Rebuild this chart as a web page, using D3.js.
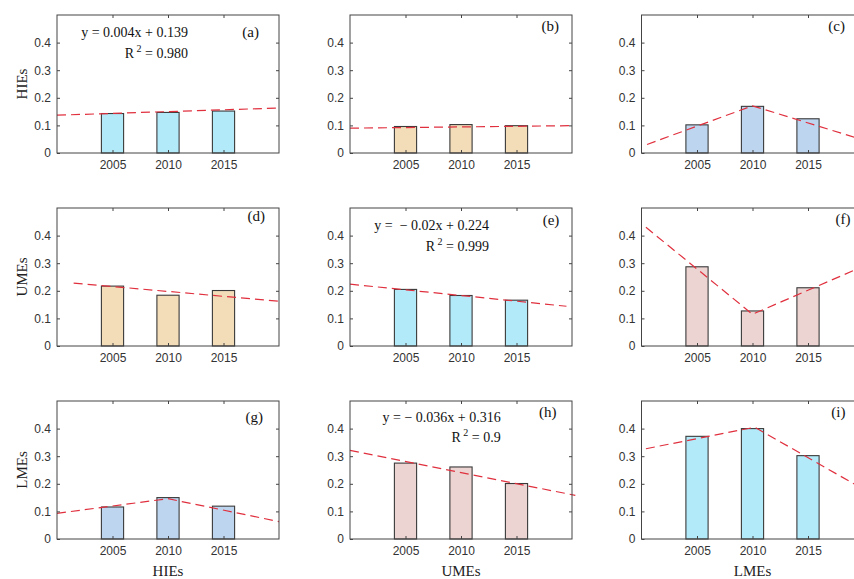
<!DOCTYPE html>
<html>
<head>
<meta charset="utf-8">
<script src="https://cdn.jsdelivr.net/npm/d3@7/dist/d3.min.js"></script>
<style>
  html, body { margin: 0; padding: 0; background: #fff; }
  svg { display: block; }
</style>
</head>
<body>
<svg id="chart" width="854" height="579"></svg>
<script>
// ---------------- DATA ----------------
const years = [2005, 2010, 2015];
const yTicks = [0, 0.1, 0.2, 0.3, 0.4];
const yTickLabels = ["0", "0.1", "0.2", "0.3", "0.4"];
const rowNames = ["HIEs", "UMEs", "LMEs"];
const colNames = ["HIEs", "UMEs", "LMEs"];
const panelLetters = ["(a)", "(b)", "(c)", "(d)", "(e)", "(f)", "(g)", "(h)", "(i)"];

const barA = [0.143, 0.147, 0.152];
const barB = [0.096, 0.103, 0.099];
const barC = [0.102, 0.169, 0.124];
const barD = [0.217, 0.184, 0.201];
const barE = [0.205, 0.183, 0.166];
const barF = [0.287, 0.127, 0.211];
const barG = [0.116, 0.150, 0.119];
const barH = [0.275, 0.261, 0.201];
const barI = [0.372, 0.400, 0.302];
const barValues = [barA, barB, barC, barD, barE, barF, barG, barH, barI];

// trend / fitted lines: [year, value]
const trendA = [[2000, 0.137], [2020, 0.163]];
const trendB = [[2000, 0.090], [2020, 0.099]];
const trendC = [[2000.5, 0.031], [2010, 0.171], [2020, 0.047]];
const trendD = [[2001.5, 0.228], [2020.3, 0.161]];
const trendE = [[2000, 0.224], [2019.5, 0.144]];
const trendF = [[2000.4, 0.430], [2010, 0.115], [2020, 0.289]];
const trendG = [[2000, 0.093], [2010, 0.146], [2020, 0.063]];
const trendH = [[2000, 0.321], [2020.3, 0.158]];
const trendI = [[2000.4, 0.327], [2010.2, 0.405], [2020, 0.180]];
const trendLines = [trendA, trendB, trendC, trendD, trendE, trendF, trendG, trendH, trendI];

// regression annotations (panel index -> text)
const eqPanels = [0, 4, 7];
const eqLines = ["y = 0.004x + 0.139", "y =  \u2212 0.02x + 0.224", "y = \u2212 0.036x + 0.316"];
const r2Values = ["0.980", "0.999", "0.9"];

// ---------------- LAYOUT / STYLE ----------------
const colLeft = [57, 350, 641.5];
const rowBottom = [153, 346, 539];
const plotW = 222, plotH = 138;
const barColors = ["#b3eaf9", "#f3dcb8", "#bdd5ef", "#f3dcb8", "#b3eaf9", "#ebd4d2", "#bdd5ef", "#ebd4d2", "#b3eaf9"];
// label offsets: [dx from right edge, dy baseline from top]
const labelPos = [[-20, 22], [-13, 15.5], [-18.5, 15.5], [-14, 13], [-12.7, 16.5], [-13, 15.5], [-16, 20.5], [-15.5, 15.5], [-18, 15.5]];
// equation positions: [dx (right end) from left edge, eq baseline dy, R2 baseline dy]
const eqPos = [[131, 22, 42.5], [139, 21.5, 42.5], [150.7, 21, 41]];

const svg = d3.select("#chart");
const serif = "'Liberation Serif', 'Times New Roman', serif";
const sans = "'Liberation Sans', Arial, sans-serif";

for (let p = 0; p < 9; p++) {
  const r = Math.floor(p / 3), c = p % 3;
  const left = colLeft[c], bottom = rowBottom[r], top = bottom - plotH, right = left + plotW;
  const x = d3.scaleLinear().domain([2000, 2020]).range([left, right]);
  const y = d3.scaleLinear().domain([0, 0.5]).range([bottom, top]);
  const g = svg.append("g");

  // bars
  const bw = x(2001) - x(2000);
  g.selectAll("rect.bar").data(years.map((yr, i) => ({ yr, v: barValues[p][i] })))
    .enter().append("rect")
    .attr("x", d => x(d.yr - 1))
    .attr("width", 2 * bw)
    .attr("y", d => y(d.v))
    .attr("height", d => y(0) - y(d.v))
    .attr("fill", barColors[p])
    .attr("stroke", "#3a3a3a")
    .attr("stroke-width", 1.1);

  // trend line
  g.append("path")
    .datum(trendLines[p])
    .attr("d", d3.line().x(d => x(d[0])).y(d => y(d[1])))
    .attr("fill", "none")
    .attr("stroke", "#e0303e")
    .attr("stroke-width", 1.2)
    .attr("stroke-dasharray", "9,5");

  // axes (ticks inside)
  const yAxisL = d3.axisLeft(y).tickValues(yTicks).tickFormat((d, i) => yTickLabels[i]).tickSizeInner(-3).tickSizeOuter(0).tickPadding(6);
  const yAxisR = d3.axisRight(y).tickValues(yTicks.slice(1)).tickFormat("").tickSizeInner(-3).tickSizeOuter(0);
  const xAxisB = d3.axisBottom(x).tickValues(years).tickFormat(d3.format("d")).tickSizeInner(-3).tickSizeOuter(0).tickPadding(7);
  const xAxisT = d3.axisTop(x).tickValues(years).tickFormat("").tickSizeInner(-3).tickSizeOuter(0);

  const styleAxis = sel => {
    sel.select(".domain").remove();
    sel.selectAll("line").attr("stroke", "#444");
    sel.selectAll("text").attr("fill", "#333").style("font-family", sans).style("font-size", "12px");
  };
  g.append("g").attr("transform", `translate(${left},0)`).call(yAxisL).call(styleAxis);
  g.append("g").attr("transform", `translate(${right},0)`).call(yAxisR).call(styleAxis);
  g.append("g").attr("transform", `translate(0,${bottom})`).call(xAxisB).call(styleAxis);
  g.append("g").attr("transform", `translate(0,${top})`).call(xAxisT).call(styleAxis);

  // box
  g.append("rect")
    .attr("x", left).attr("y", top).attr("width", plotW).attr("height", plotH)
    .attr("fill", "none").attr("stroke", "#444").attr("stroke-width", 1);

  // panel letter
  g.append("text")
    .attr("x", right + labelPos[p][0]).attr("y", top + labelPos[p][1])
    .attr("text-anchor", "end")
    .style("font-family", serif).style("font-size", "15px").attr("fill", "#111")
    .text(panelLetters[p]);

  // equation
  const ei = eqPanels.indexOf(p);
  if (ei >= 0) {
    const ep = eqPos[ei];
    g.append("text")
      .attr("x", left + ep[0]).attr("y", top + ep[1])
      .attr("text-anchor", "end")
      .style("font-family", serif).style("font-size", "14px").attr("fill", "#111")
      .style("white-space", "pre").attr("xml:space", "preserve")
      .text(eqLines[ei]);
    const t = g.append("text")
      .attr("x", left + ep[0]).attr("y", top + ep[2])
      .attr("text-anchor", "end")
      .style("font-family", serif).style("font-size", "14px").attr("fill", "#111")
      .attr("xml:space", "preserve");
    t.append("tspan").text("R");
    t.append("tspan").attr("dy", -6).style("font-size", "10px").text(" 2");
    t.append("tspan").attr("dy", 6).text(" = " + r2Values[ei]);
  }

  // row label (y)
  if (c === 0) {
    svg.append("text")
      .attr("transform", `translate(27,${(top + bottom) / 2}) rotate(-90)`)
      .attr("text-anchor", "middle")
      .style("font-family", serif).style("font-size", "15px").attr("fill", "#222")
      .text(rowNames[r]);
  }
  // column label (x)
  if (r === 2) {
    svg.append("text")
      .attr("x", x(2010)).attr("y", 576)
      .attr("text-anchor", "middle")
      .style("font-family", serif).style("font-size", "15px").attr("fill", "#222")
      .text(colNames[c]);
  }
}
</script>
</body>
</html>
